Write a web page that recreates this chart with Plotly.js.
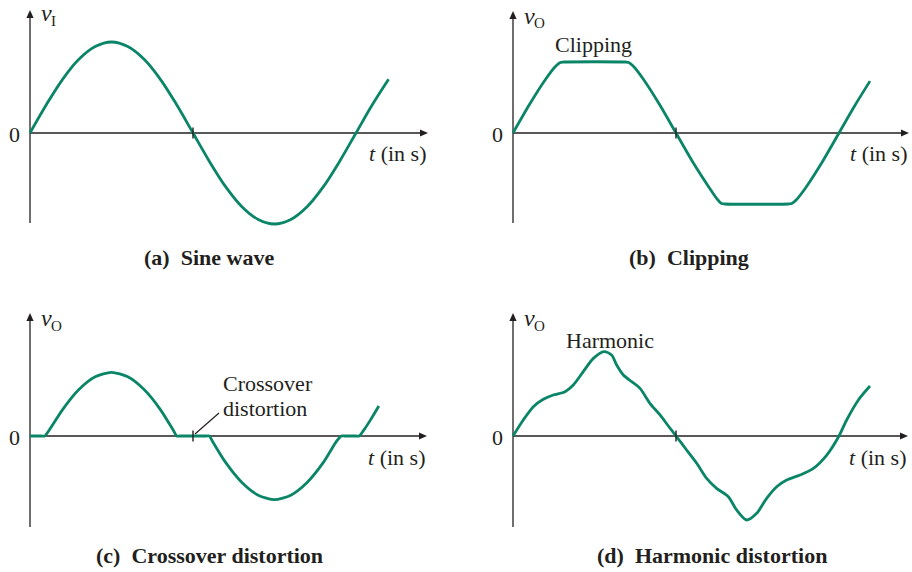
<!DOCTYPE html>
<html>
<head>
<meta charset="utf-8">
<script src="https://cdn.plot.ly/plotly-3.0.1.min.js"></script>
<style>html,body{margin:0;padding:0;background:#fff;}#chart{width:912px;height:572px;}</style>
</head>
<body>
<div id="chart"></div>
<script>
// ---- data (t in units of half-period, v in units of sine amplitude) ----
const T_SINE = [0,0.1,0.2,0.3,0.4,0.5,0.6,0.7,0.8,0.9,1.0,1.1,1.2,1.3,1.4,1.5,1.6,1.7,1.8,1.9,2.0,2.1,2.2];
const V_SINE = [0,0.31,0.59,0.81,0.95,1.0,0.95,0.81,0.59,0.31,0,-0.31,-0.59,-0.81,-0.95,-1.0,-0.95,-0.81,-0.59,-0.31,0,0.31,0.59];

const T_CLIP = [0,0.1,0.2,0.26,0.29,0.31,0.69,0.71,0.74,0.8,0.9,1.0,1.1,1.2,1.25,1.28,1.30,1.69,1.71,1.74,1.8,1.9,2.0,2.1,2.19];
const V_CLIP = [0,0.31,0.59,0.73,0.775,0.78,0.78,0.775,0.73,0.59,0.31,0,-0.31,-0.59,-0.72,-0.775,-0.78,-0.78,-0.775,-0.73,-0.59,-0.31,0,0.31,0.57];

const T_CROSS = [0,0.07,0.09,0.12,0.2,0.3,0.4,0.5,0.6,0.7,0.8,0.88,0.9,0.92,1.08,1.1,1.12,1.2,1.3,1.4,1.5,1.6,1.7,1.8,1.88,1.91,1.93,2.0,2.02,2.05,2.09,2.14];
const V_CROSS = [0,0,0,0.07,0.29,0.51,0.65,0.70,0.65,0.51,0.29,0.06,0,0,0,0,-0.06,-0.29,-0.51,-0.65,-0.70,-0.65,-0.51,-0.29,-0.06,0,0,0,0,0.07,0.18,0.33];

const T_HARM = [0,0.063,0.125,0.186,0.247,0.319,0.37,0.431,0.493,0.558,0.605,0.636,0.677,0.728,0.779,0.84,0.902,0.953,1.0,1.065,1.127,1.188,1.249,1.321,1.372,1.434,1.495,1.556,1.618,1.679,1.761,1.843,1.925,2.0,2.047,2.119,2.19];
const V_HARM = [0,0.176,0.322,0.403,0.45,0.487,0.56,0.707,0.853,0.927,0.89,0.78,0.67,0.597,0.524,0.359,0.231,0.11,0,-0.154,-0.3,-0.465,-0.575,-0.667,-0.813,-0.923,-0.85,-0.685,-0.557,-0.484,-0.429,-0.355,-0.209,0,0.176,0.396,0.549];

const TICK_T = 1;
const ZERO_LABEL = '0';
const X_LABEL = '<i>t</i> (in s)';
const Y_SYMBOL = '<i>v</i>';
const Y_SUBS = ['I', 'O', 'O', 'O'];
const CAPTIONS = ['<b>(a)\u00A0 Sine wave</b>', '<b>(b)\u00A0 Clipping</b>', '<b>(c)\u00A0 Crossover distortion</b>', '<b>(d)\u00A0 Harmonic distortion</b>'];
const NOTE_CLIP = 'Clipping';
const NOTE_CROSS = ['Crossover', 'distortion'];
const NOTE_HARM = 'Harmonic';

// ---- layout geometry (pixels) ----
const W = 912, H = 572;
const SX = 163, SY = 91;               // px per unit
const FONT = '"Liberation Serif", "Times New Roman", Times, serif';
const INK = '#231f20';
const GREEN = '#0b8567';

const PANELS = [
  {xa:'x',  ya:'y',  ox:30,  oy:133, top:10,  bot:223, right:428, xd:[0,0.5], yd:[0.5,1], pxL:0,   pyT:0,   vx:39,  vb:20,  sx:49,  sb:26},
  {xa:'x2', ya:'y2', ox:513, oy:133, top:11,  bot:223, right:909, xd:[0.5,1], yd:[0.5,1], pxL:456, pyT:0,   vx:522, vb:23,  sx:532, sb:28},
  {xa:'x3', ya:'y3', ox:30,  oy:436, top:313, bot:527, right:427, xd:[0,0.5], yd:[0,0.5], pxL:0,   pyT:286, vx:39,  vb:325, sx:49,  sb:331},
  {xa:'x4', ya:'y4', ox:513, oy:436, top:313, bot:527, right:908, xd:[0.5,1], yd:[0,0.5], pxL:456, pyT:286, vx:522, vb:325, sx:532, sb:331}
];
const px2t = (p, px) => (px - p.ox) / SX;
const py2v = (p, py) => (p.oy - py) / SY;
const PX = x => x / W;
const PY = y => 1 - y / H;

const SERIES = [[T_SINE, V_SINE, 1], [T_CLIP, V_CLIP, 0.7], [T_CROSS, V_CROSS, 0.7], [T_HARM, V_HARM, 0.8]];

const traces = SERIES.map((s, i) => ({
  type: 'scatter', mode: 'lines', x: s[0], y: s[1],
  xaxis: PANELS[i].xa, yaxis: PANELS[i].ya,
  line: {color: GREEN, width: 2.8, shape: 'spline', smoothing: s[2]},
  hoverinfo: 'skip', cliponaxis: false
}));

const layout = {
  width: W, height: H, margin: {l:0, r:0, t:0, b:0},
  paper_bgcolor: '#fff', plot_bgcolor: 'rgba(0,0,0,0)',
  showlegend: false, font: {family: FONT, color: INK, size: 22},
  shapes: [], annotations: []
};

const HEAD_L = 8, HEAD_W = 3.6;
PANELS.forEach((p, i) => {
  const n = i === 0 ? '' : String(i + 1);
  layout['xaxis' + n] = {domain: p.xd, range: [px2t(p, p.pxL), px2t(p, p.pxL + 456)], visible: false, fixedrange: true};
  layout['yaxis' + n] = {domain: p.yd, range: [py2v(p, p.pyT + 286), py2v(p, p.pyT)], visible: false, fixedrange: true};
  const xr = p.xa, yr = p.ya;
  layout.shapes.push({type:'line', xref:xr, yref:yr, x0:0, x1:0, y0:py2v(p, p.bot), y1:py2v(p, p.top + HEAD_L - 1), line:{color:INK, width:1.3}, layer:'below'});
  layout.shapes.push({type:'line', xref:xr, yref:yr, x0:0, x1:px2t(p, p.right - HEAD_L + 1), y0:0, y1:0, line:{color:INK, width:1.3}, layer:'below'});
  layout.shapes.push({type:'line', xref:xr, yref:yr, x0:TICK_T, x1:TICK_T, y0:-5.5/SY, y1:5.5/SY, line:{color:INK, width:1.4}});
  const tx = 0, ty = py2v(p, p.top);
  layout.shapes.push({type:'path', xref:xr, yref:yr, fillcolor:INK, line:{width:0},
    path:`M ${tx},${ty} L ${tx - HEAD_W/SX},${ty - HEAD_L/SY} L ${tx + HEAD_W/SX},${ty - HEAD_L/SY} Z`});
  const rx = px2t(p, p.right), ry = 0;
  layout.shapes.push({type:'path', xref:xr, yref:yr, fillcolor:INK, line:{width:0},
    path:`M ${rx},${ry} L ${rx - HEAD_L/SX},${ry + HEAD_W/SY} L ${rx - HEAD_L/SX},${ry - HEAD_W/SY} Z`});
  layout.annotations.push({xref:'paper', yref:'paper', x:PX(p.ox - 8), y:PY(p.oy + 1), text:ZERO_LABEL, showarrow:false, xanchor:'right', yanchor:'middle', font:{size:22}});
  layout.annotations.push({xref:'paper', yref:'paper', x:PX(p.right), y:PY(p.oy + 21), text:X_LABEL, showarrow:false, xanchor:'right', yanchor:'middle', font:{size:22}});
  layout.annotations.push({xref:'paper', yref:'paper', x:PX(p.vx), y:PY(p.vb - 7), text:Y_SYMBOL, showarrow:false, xanchor:'left', yanchor:'middle', font:{size:24}});
  layout.annotations.push({xref:'paper', yref:'paper', x:PX(p.sx), y:PY(p.sb - 5), text:Y_SUBS[i], showarrow:false, xanchor:'left', yanchor:'middle', font:{size:15}});
});

const CAP_POS = [[209, 257], [689, 257], [209, 555], [712, 555]];
CAPTIONS.forEach((c, i) => {
  layout.annotations.push({xref:'paper', yref:'paper', x:PX(CAP_POS[i][0]), y:PY(CAP_POS[i][1]), text:c, showarrow:false, xanchor:'center', yanchor:'middle', font:{size:22}});
});

layout.annotations.push({xref:'paper', yref:'paper', x:PX(553), y:PY(45), text:NOTE_CLIP, showarrow:false, xanchor:'left', yanchor:'middle', font:{size:22}});
layout.annotations.push({xref:'paper', yref:'paper', x:PX(221), y:PY(383), text:NOTE_CROSS[0], showarrow:false, xanchor:'left', yanchor:'middle', font:{size:22}});
layout.annotations.push({xref:'paper', yref:'paper', x:PX(221), y:PY(408), text:NOTE_CROSS[1], showarrow:false, xanchor:'left', yanchor:'middle', font:{size:22}});
layout.annotations.push({xref:'paper', yref:'paper', x:PX(564), y:PY(340), text:NOTE_HARM, showarrow:false, xanchor:'left', yanchor:'middle', font:{size:22}});
layout.shapes.push({type:'line', xref:'paper', yref:'paper', x0:PX(195), y0:PY(434), x1:PX(219), y1:PY(413), line:{color:INK, width:1.2}});

Plotly.newPlot('chart', traces, layout, {staticPlot:true, displayModeBar:false});
</script>
</body>
</html>
